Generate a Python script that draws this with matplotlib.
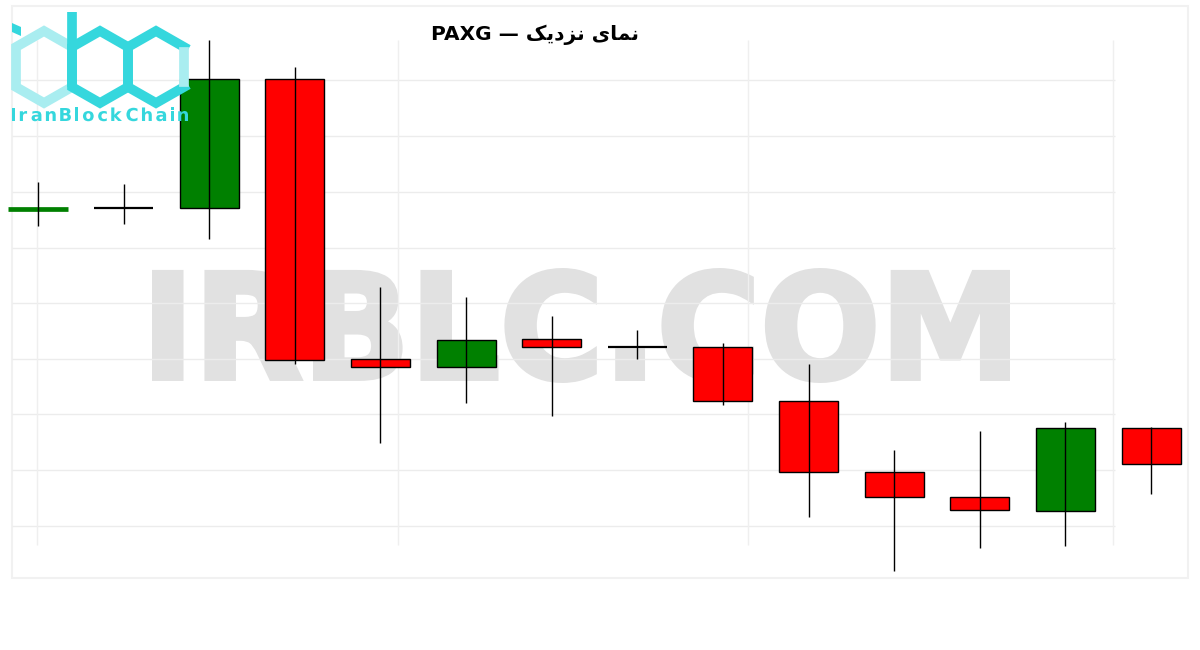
import matplotlib
matplotlib.use("Agg")
import matplotlib.pyplot as plt
from matplotlib.textpath import TextPath
from matplotlib.patches import PathPatch, Rectangle, Polygon
from matplotlib.font_manager import FontProperties
from matplotlib.transforms import Affine2D

# data (PAXG candles)
opens = [1999.05, 1999.23, 1999.17, 2012.07, 1984.07, 1983.27, 1986.07,
         1985.27, 1985.27, 1979.87, 1972.77, 1970.27, 1968.87, 1977.17]
highs = [2001.8, 2001.6, 2016.0, 2013.3, 1991.33, 1990.3, 1988.4,
         1987.0, 1985.67, 1983.6, 1975.0, 1976.9, 1977.8, 1977.35]
lows = [1997.4, 1997.63, 1996.13, 1983.57, 1975.67, 1979.67, 1978.37,
        1984.13, 1979.53, 1968.33, 1962.93, 1965.23, 1965.43, 1970.6]
closes = [1999.09, 1999.23, 2012.07, 1983.97, 1983.27, 1985.97, 1985.27,
          1985.27, 1979.87, 1972.77, 1970.27, 1968.97, 1977.17, 1973.6]

grid_levels = [2012.0, 2006.4, 2000.8, 1995.2, 1989.7, 1984.1, 1978.6, 1973.0, 1967.4]
grid_x = [-0.01, 4.2, 8.29, 12.56]

# "نمای نزدیک — PAXG" written in visual order with arabic presentation forms
# (matplotlib does no shaping / bidi by itself)
title = "PAXG \u2014 " + "\uFB8F\uFBFE\uFEA9\uFEB0\uFEE7" + " " + "\uFBFC\uFE8E\uFEE4\uFEE7"

UP = "#008000"
DOWN = "#ff0000"
TEAL = "#35d7dd"
LIGHT = "#a9edf0"

fig = plt.figure(figsize=(12, 6.5), dpi=100)
fig.patch.set_facecolor("white")

#%% background stuff, in pixel coords
deco = fig.add_axes([0, 0, 1, 1])
deco.set_xlim(0, 1200)
deco.set_ylim(650, 0)
deco.axis("off")
deco.set_zorder(0)

# faint frame
deco.add_patch(Rectangle((12, 6), 1176, 572, fill=False, ec="#f1f1f1", lw=1.5))

# watermark (stroked a bit to get a heavier look)
fp = FontProperties(family="DejaVu Sans", weight="bold")
tp = TextPath((0, 0), "IRBLC.COM", prop=fp, size=1)
ext = tp.get_extents()
sx = (858 - 5) / ext.width
sy = (115 - 5) / ext.height
tr = Affine2D().translate(-ext.x0, -ext.y0).scale(sx, -sy).translate(154.5, 380.5)
deco.add_patch(PathPatch(tr.transform_path(tp), fc="#e1e1e1", ec="#e1e1e1", lw=3.6))

#%% candles
ax = fig.add_axes([0, 0, 1, 1])
ax.set_zorder(1)
ax.patch.set_alpha(0)
ax.axis("off")
ax.set_xlim(-38 / 85.62, 1162 / 85.62)
ax.set_ylim(1955, 2020)

ax.hlines(grid_levels, -0.3, 12.58, color="#ececec", lw=1, zorder=0)
ax.vlines(grid_x, 1965.5, 2016, color="#efefef", lw=1, zorder=0)

w = 0.69
for i in range(len(opens)):
    o, h, l, c = opens[i], highs[i], lows[i], closes[i]
    col = UP if c > o else DOWN
    ax.vlines(i, l, h, color="black", lw=1, zorder=3)
    if o == c:
        ax.hlines(o, i - w / 2, i + w / 2, color="black", lw=1.6, zorder=3)
    elif abs(c - o) < 0.2:
        ax.hlines((o + c) / 2, i - w / 2, i + w / 2, color=col, lw=3.4, zorder=2)
    else:
        ax.bar(i, abs(c - o), bottom=min(o, c), width=w, color=col,
               edgecolor="black", linewidth=1, zorder=2)

#%% logo on top
logo = fig.add_axes([0, 0, 1, 1])
logo.set_xlim(0, 1200)
logo.set_ylim(650, 0)
logo.axis("off")
logo.set_zorder(2)
logo.patch.set_alpha(0)

def hexa(cx):
    return [(cx, 31), (cx + 28, 47), (cx + 28, 87), (cx, 103), (cx - 28, 87), (cx - 28, 47)]

i_hex = hexa(44)
b_hex = hexa(100)
c_hex = hexa(156)
logo.add_patch(Polygon(i_hex, closed=True, fill=False, ec=LIGHT, lw=7, joinstyle="miter"))
logo.add_patch(Polygon(b_hex, closed=True, fill=False, ec=TEAL, lw=7, joinstyle="miter"))
logo.plot([c_hex[1][0], c_hex[0][0], c_hex[5][0], c_hex[4][0], c_hex[3][0], c_hex[2][0]],
          [c_hex[1][1], c_hex[0][1], c_hex[5][1], c_hex[4][1], c_hex[3][1], c_hex[2][1]],
          color=TEAL, lw=7, solid_joinstyle="miter")
logo.plot([c_hex[1][0], c_hex[2][0]], [c_hex[1][1] + 5, c_hex[2][1] - 5], color=LIGHT, lw=7)
logo.plot([72, 72], [12, 87], color=TEAL, lw=7, solid_capstyle="butt")
logo.add_patch(Polygon([(12, 23), (21, 27), (21, 36), (12, 32)], closed=True, fc=TEAL, ec="none"))

# logo text, letter spaced
fp2 = FontProperties(family="DejaVu Sans", weight="bold")
word = "IranBlockChain"
paths = [TextPath((0, 0), ch, prop=fp2, size=1) for ch in word]
cap = TextPath((0, 0), "I", prop=fp2, size=1).get_extents().height
scale = 13 / cap
widths = [p.get_extents().width * scale for p in paths]
gap = (176 - sum(widths)) / (len(word) - 1)
x = 12
for p, wd in zip(paths, widths):
    e = p.get_extents()
    t = Affine2D().translate(-e.x0, 0).scale(scale, -scale).translate(x, 121)
    logo.add_patch(PathPatch(t.transform_path(p), fc=TEAL, ec="none"))
    x += wd + gap

fig.text(535 / 1200, 1 - 40 / 650, title, ha="center", va="baseline",
         fontsize=14.5, fontweight="bold", family=["DejaVu Sans"], color="black")

fig.savefig("out.png", dpi=100)
